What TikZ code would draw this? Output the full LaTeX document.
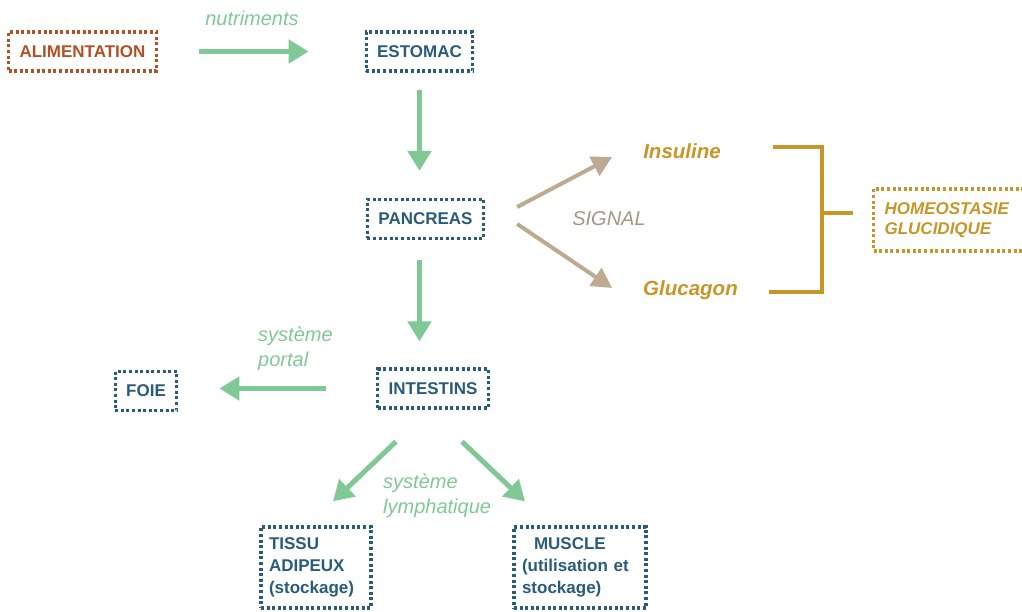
\documentclass[tikz,border=0pt]{standalone}
\usepackage{fontspec}
\setmainfont{Liberation Sans}
\usetikzlibrary{arrows.meta}
\definecolor{vert}{RGB}{128,200,150}
\definecolor{bleu}{RGB}{40,92,122}
\definecolor{brique}{RGB}{178,80,38}
\definecolor{ocre}{RGB}{200,150,40}
\definecolor{sable}{RGB}{190,170,145}
\definecolor{gris}{RGB}{165,150,135}
\begin{document}
\begin{tikzpicture}[
      x=1pt, y=-1pt,
      organe/.style={draw=bleu,text=bleu,line width=3.2pt,
        dash pattern=on 3pt off 2.6pt,inner xsep=11pt,minimum height=39pt,
        font=\fontsize{17}{21.7}\selectfont\bfseries},
      legende/.style={text=vert,inner sep=0pt,align=left,
        font=\fontsize{20}{25}\selectfont\itshape},
      hormone/.style={text=ocre,inner sep=0pt,
        font=\fontsize{20.5}{24}\selectfont\bfseries\itshape},
      fleche/.style={draw=vert,line width=5pt,-{Triangle[length=20pt,width=23pt]}},
      signal/.style={draw=sable,line width=4pt,-{Triangle[length=20pt,width=21pt]}},
      accolade/.style={draw=ocre,line width=4.5pt},
    ]
    \useasboundingbox (0,0) rectangle (1022,612);
    \node[organe,draw=brique,text=brique] (alim) at (82.5,51.5) {ALIMENTATION};
    \node[organe] (estomac) at (419.5,51.5) {ESTOMAC};
    \node[organe] (pancreas) at (425.5,219) {PANCREAS};
    \node[organe] (intestins) at (433,388.5) {INTESTINS};
    \node[organe] (foie) at (146,391) {FOIE};
    \node[organe,align=left,text width=94pt,inner xsep=8pt,minimum height=81pt]
      (tissu) at (316,567.5) {TISSU\\ADIPEUX\\(stockage)};
    \node[organe,align=left,text width=116pt,inner xsep=8pt,minimum height=81pt]
      (muscle) at (580,567.5) {\hspace*{12pt}MUSCLE\\(utilisation et\\stockage)};
    \node[organe,draw=ocre,text=ocre,anchor=west,align=left,text width=140pt,
      minimum height=62pt,font=\fontsize{17}{20}\selectfont\bfseries\itshape]
      (homeo) at (872,220) {HOMEOSTASIE\\GLUCIDIQUE};
    \node[hormone] (insuline) at (682,151) {Insuline};
    \node[hormone] (glucagon) at (690.5,290) {Glucagon};
    \node[legende] (nutri) at (252,18) {nutriments};
    \node[legende,anchor=west] (portal) at (258,348.5) {système\\portal};
    \node[legende,anchor=west] (lymph) at (383,495.5) {système\\lymphatique};
    \node[text=gris,font=\fontsize{20}{25}\selectfont\itshape] (sig) at (609,219) {SIGNAL};

    \draw[fleche,shorten <=41pt,shorten >=56pt] (alim.east) -- (estomac.west);
    \draw[fleche,shorten <=17pt,shorten >=27pt] (estomac.south) -- (estomac.south |- pancreas.north);
    \draw[fleche,shorten <=20pt,shorten >=26pt] (estomac.south |- pancreas.south) -- (estomac.south |- intestins.north);
    \draw[fleche,shorten <=50pt,shorten >=41pt] (intestins.west) -- (intestins.west -| foie.east);
    \draw[fleche] ([xshift=-37pt,yshift=-32pt]intestins.south) -- ([xshift=17pt,yshift=24pt]tissu.north);
    \draw[fleche] ([xshift=29pt,yshift=-32pt]intestins.south) -- ([xshift=-55pt,yshift=24pt]muscle.north);

    \draw[signal] ([xshift=32pt,yshift=12pt]pancreas.east) -- ([xshift=-31pt,yshift=-6pt]insuline.west);
    \draw[signal] ([xshift=32pt,yshift=-5pt]pancreas.east) -- ([xshift=-31pt,yshift=2pt]glucagon.west);

    \coordinate (jonction) at (822,213);
    \draw[accolade] ([xshift=52pt,yshift=4pt]insuline.east) -| (jonction) |- ([xshift=31pt,yshift=-2pt]glucagon.east);
    \draw[accolade,shorten >=19pt] (jonction) -- (jonction -| homeo.west);
\end{tikzpicture}
\end{document}
